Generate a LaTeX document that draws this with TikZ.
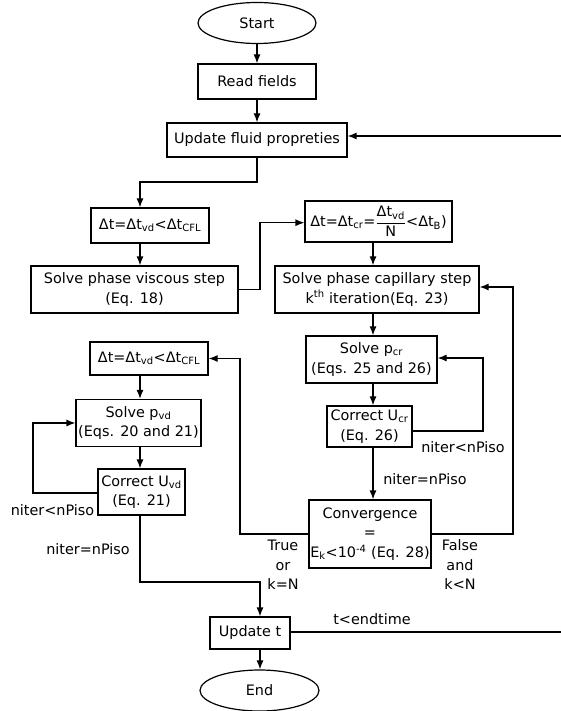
\documentclass[tikz,border=0pt]{standalone}
\usepackage{fontspec}
\setmainfont{DejaVu Sans}
\usetikzlibrary{shapes.geometric,arrows.meta,calc}
\newcommand{\sbs}[1]{\textsubscript{#1}}
\newcommand{\sps}[1]{\textsuperscript{#1}}
\begin{document}
\begin{tikzpicture}[x=1pt,y=-1pt,line width=1.2pt,
  font=\fontsize{14.4}{19.5}\selectfont,
  box/.style={draw, rectangle, inner sep=0pt, align=center},
  term/.style={draw, ellipse, inner sep=0pt},
  arr/.style={-{Latex[length=9pt,width=7pt]}},
  lbl/.style={align=center, inner sep=0pt}]
\useasboundingbox (0,0) rectangle (561,711);
% nodes
\node[term, minimum width=118pt, minimum height=41pt] (start) at (257,23) {Start};
\node[box, minimum width=118pt, minimum height=35pt] (read) at (257,81.5) {Read fields};
\node[box, minimum width=180pt, minimum height=34pt] (upd) at (257,140) {Update fluid propreties};
\node[box, minimum width=118pt, minimum height=35pt] (dt1) at (150,225.5) {Δt=Δt\sbs{vd}<Δt\sbs{CFL}};
\node[box, minimum width=207pt, minimum height=47pt] (visc) at (134.5,289.5) {Solve phase viscous step\\(Eq. 18)};
\node[box, minimum width=147pt, minimum height=41pt] (dtcr) at (378.5,221.5) {Δt=Δt\sbs{cr}=$\displaystyle\frac{\mbox{Δt\sbs{vd}}}{\mbox{N}}$<Δt\sbs{B})};
\node[box, minimum width=204pt, minimum height=47pt] (cap) at (377,289.5) {Solve phase capillary step\\k\sps{th} iteration(Eq. 23)};
\node[box, minimum width=131pt, minimum height=47pt] (pcr) at (371.5,359.5) {Solve p\sbs{cr}\\(Eqs. 25 and 26)};
\node[box, minimum width=85pt, minimum height=41pt] (ucr) at (369.5,426.5) {Correct U\sbs{cr}\\(Eq. 26)};
\node[box, minimum width=118pt, minimum height=33pt] (dt2) at (149,358.5) {Δt=Δt\sbs{vd}<Δt\sbs{CFL}};
\node[box, minimum width=125pt, minimum height=47pt] (pvd) at (138.5,423) {Solve p\sbs{vd}\\(Eqs. 20 and 21)};
\node[box, minimum width=87pt, minimum height=46pt] (uvd) at (141.5,492) {Correct U\sbs{vd}\\(Eq. 21)};
\node[box, minimum width=122pt, minimum height=68pt] (conv) at (370,534) {Convergence\\=\\E\sbs{k}<10\sps{-4} (Eq. 28)};
\node[box, minimum width=80pt, minimum height=32pt] (updt) at (250,633) {Update t};
\node[term, minimum width=119pt, minimum height=41pt] (end) at (259.5,690.5) {End};
% labels
\node[lbl] (l1) at (463,447) {niter<nPiso};
\node[lbl] (l2) at (425,479) {niter=nPiso};
\node[lbl] (l3) at (52.5,510) {niter<nPiso};
\node[lbl] (l4) at (88,549) {niter=nPiso};
\node[lbl] (l5) at (283,565) {True\\or\\k=N};
\node[lbl] (l6) at (460,565) {False\\and\\k<N};
\node[lbl] (l7) at (372,619) {t<endtime};
% helper coordinates
\coordinate (cL) at (140,0);
\coordinate (cR) at (373,0);
\coordinate (r1) at (561,136);
\coordinate (r2) at (561,632);
\coordinate (j1) at (140,182);
\coordinate (j2) at (260,222.7);
\coordinate (j3a) at (483,431);
\coordinate (j3) at (483,358);
\coordinate (j4) at (240,358.5);
\coordinate (j5) at (513,287);
\coordinate (j6) at (33,423);
\coordinate (j6a) at (33,493);
\coordinate (j7) at (260,582);
\coordinate (cE) at (260,0);
% connectors
\draw[arr] (start) -- (read);
\draw[arr] (read) -- (upd);
\draw[arr] (r1) -- (r1 -| upd.east);
\draw[arr] (upd.south) |- (j1) -- (j1 |- dt1.north);
\draw[arr] (dt1.south -| cL) -- (visc.north -| cL);
\draw[arr] (visc.east) -| (j2) -- (dtcr.west |- j2);
\draw[arr] (dtcr.south -| cR) -- (cap.north -| cR);
\draw[arr] (cap.south -| cR) -- (pcr.north -| cR);
\draw[arr] (pcr.south -| cR) -- (ucr.north -| cR);
\draw[arr] (ucr.east |- j3a) -- (j3a) -- (j3) -- (j3 -| pcr.east);
\draw[arr] (ucr.south -| cR) -- (conv.north -| cR);
\draw[arr] (conv.west) -| (j4) -- (dt2.east);
\draw[arr] (conv.east) -| (j5) -- (j5 -| cap.east);
\draw[arr] (dt2.south -| cL) -- (pvd.north -| cL);
\draw[arr] (pvd.south -| cL) -- (uvd.north -| cL);
\draw[arr] (uvd.west |- j6a) -- (j6a) -- (j6) -- (pvd.west);
\draw[arr] (uvd.south -| cL) |- (j7) -- (j7 |- updt.north);
\draw (updt.east |- r2) -- (r2);
\draw[arr] (updt.south -| cE) -- (end.north -| cE);
\end{tikzpicture}
\end{document}
